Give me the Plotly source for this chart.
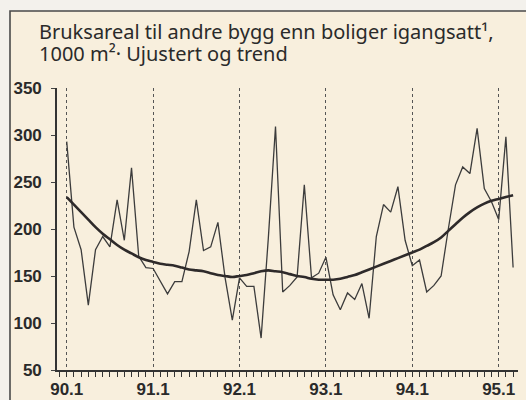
import plotly.graph_objects as go

# Month index 0 = 90.1 ... 62 = 95.3
months = list(range(63))
unadjusted = [293, 202, 178, 119, 178, 192, 181, 231, 188, 265, 171, 159,
              158, 144, 131, 144, 144, 176, 231, 177, 181, 207, 148, 103,
              148, 139, 139, 84, 190, 309, 133, 140, 149, 247, 148, 153,
              170, 130, 114, 132, 125, 142, 105, 192, 226, 218, 245, 188,
              161, 167, 133, 140, 150, 200, 247, 266, 259, 307, 243, 229,
              210, 298, 159]
trend = [234, 226, 218, 210, 202, 195, 189, 183, 178, 174, 170, 167,
         165, 163, 162, 161, 159, 157, 156, 155, 153, 151, 150, 149,
         150, 151, 153, 155, 156, 155, 154, 152, 150, 149, 147, 146,
         146, 146, 147, 149, 151, 154, 157, 160, 163, 166, 169, 172,
         175, 178, 182, 186, 191, 198, 205, 212, 218, 223, 227, 230,
         232, 234, 236]
year_ticks = [0, 12, 24, 36, 48, 60]
year_labels = ["90.1", "91.1", "92.1", "93.1", "94.1", "95.1"]
y_ticks = [50, 100, 150, 200, 250, 300, 350]

cream = "#f8efdd"
fig = go.Figure()
fig.add_trace(go.Scatter(x=months, y=unadjusted, mode="lines",
                         line=dict(color="#3c3c3c", width=1.3), showlegend=False,
                         cliponaxis=False, hoverinfo="skip"))
fig.add_trace(go.Scatter(x=months, y=trend, mode="lines", line_shape="spline",
                         line=dict(color="#2e2a2a", width=2.6), showlegend=False,
                         cliponaxis=False, hoverinfo="skip"))

W, H = 526, 400
L, R, T, B = 57, 8, 88, 30
pw = W - L - R
ph = H - T - B
def px(x):
    return (x - L) / pw
def py(y):
    return (H - B - y) / ph

tickfont = dict(family="Liberation Sans", size=17, color="#2a2a2a", weight="bold")
fig.update_layout(
    width=W, height=H,
    margin=dict(l=L, r=R, t=T, b=B, pad=0, autoexpand=False),
    paper_bgcolor="#f3f1ec",
    plot_bgcolor=cream,
    font=dict(family="Liberation Sans", color="#2a2a2a"),
    xaxis=dict(range=[-1.35, 62.68], tickvals=year_ticks, ticktext=year_labels,
               automargin=False,
               showgrid=True, gridcolor="#555555", griddash="dot", gridwidth=1,
               showline=True, linecolor="#333333", linewidth=1.6,
               ticks="outside", ticklen=5, tickcolor="#333333",
               minor=dict(dtick=1, tick0=0, ticks="outside", ticklen=5,
                          tickcolor="#333333", showgrid=False),
               tickfont=tickfont, ticklabelstandoff=-2,
               zeroline=False),
    yaxis=dict(range=[50, 350], tickvals=y_ticks, showgrid=False,
               automargin=False,
               showline=True, linecolor="#333333", linewidth=1.6,
               ticks="outside", ticklen=4, tickcolor="#444444",
               tickfont=tickfont, ticklabelstandoff=6,
               zeroline=False),
    shapes=[dict(type="rect", xref="paper", yref="paper", layer="below",
                 x0=px(10), x1=px(540), y0=py(420), y1=py(11),
                 fillcolor=cream, line=dict(color="#4a4a4a", width=1.6))],
    annotations=[
        dict(text="Bruksareal til andre bygg enn boliger igangsatt¹,",
             xref="paper", yref="paper", x=px(37), y=py(32), xanchor="left", yanchor="middle",
             showarrow=False, font=dict(family="Noto Sans", size=20, color="#2a2a2a")),
        dict(text="1000 m²· Ujustert og trend",
             xref="paper", yref="paper", x=px(37), y=py(54), xanchor="left", yanchor="middle",
             showarrow=False, font=dict(family="Noto Sans", size=20, color="#2a2a2a")),
    ],
)
fig.write_html("out.html", config={"displayModeBar": False},
               post_script="document.body.style.margin='0';document.body.style.background='#f3f1ec';")
